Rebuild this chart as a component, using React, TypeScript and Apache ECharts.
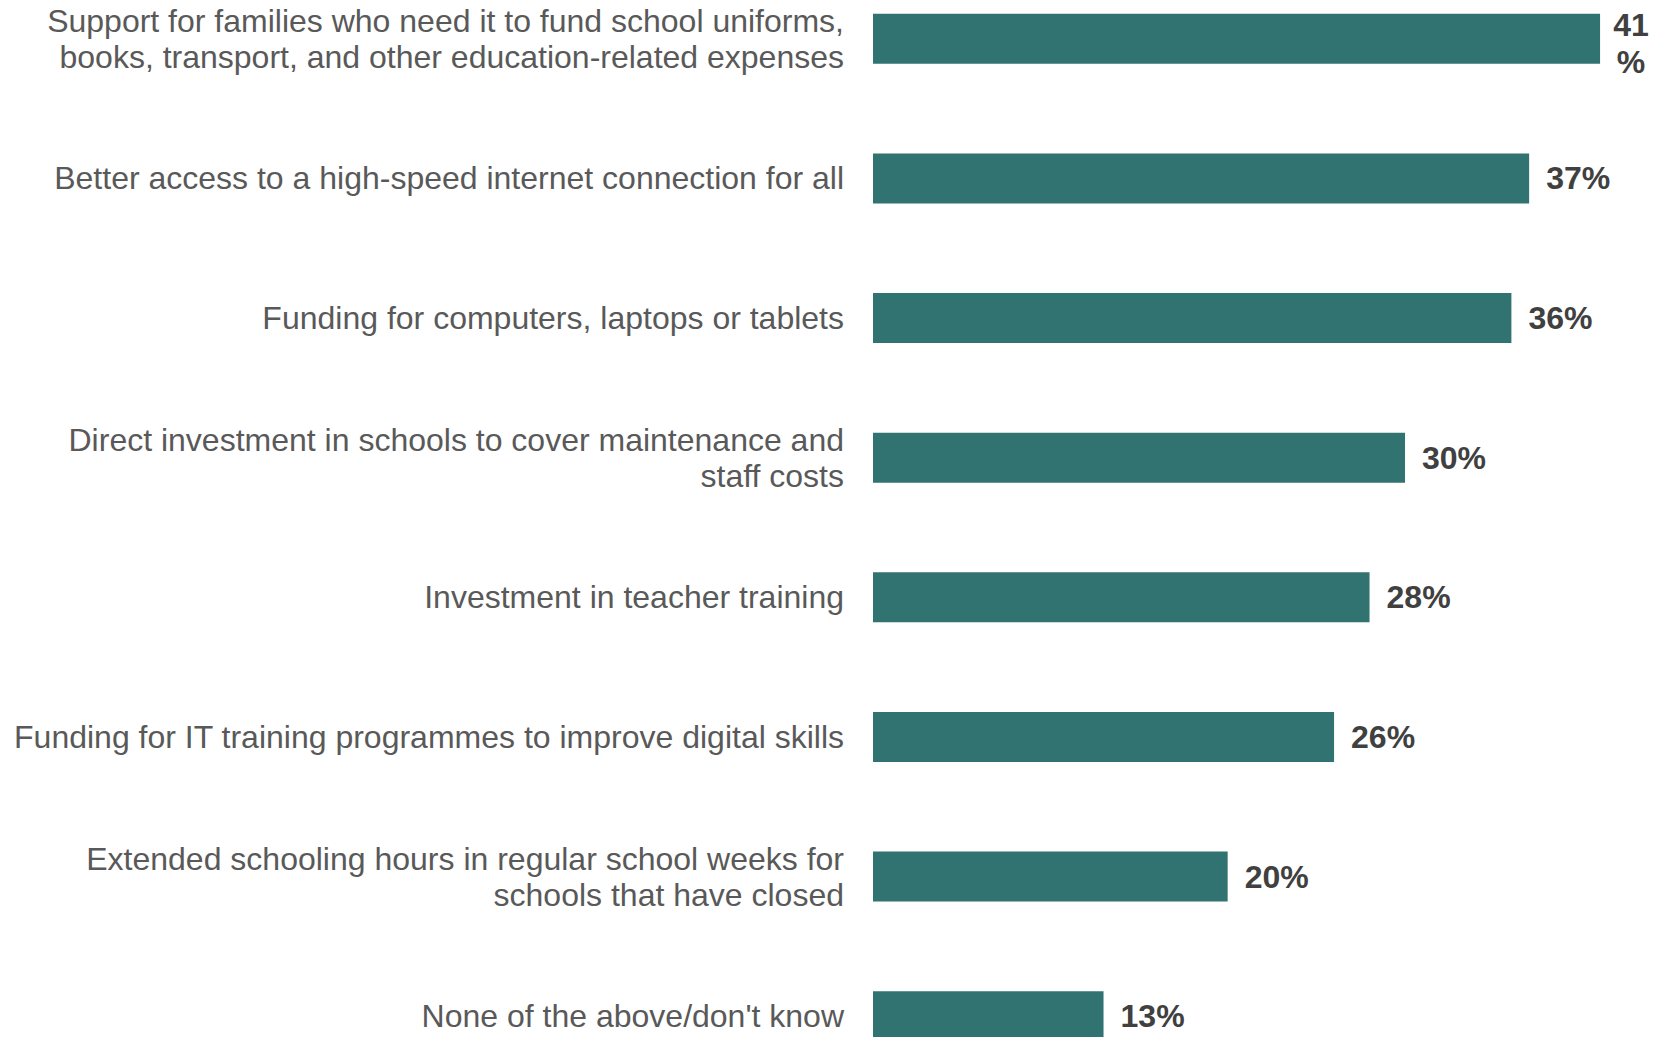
import React, { useEffect, useRef } from "react";
import * as echarts from "echarts";

const categories: string[] = [
  "Support for families who need it to fund school uniforms,\nbooks, transport, and other education-related expenses",
  "Better access to a high-speed internet connection for all",
  "Funding for computers, laptops or tablets",
  "Direct investment in schools to cover maintenance and\nstaff costs",
  "Investment in teacher training",
  "Funding for IT training programmes to improve digital skills",
  "Extended schooling hours in regular school weeks for\nschools that have closed",
  "None of the above/don't know",
];

const values: number[] = [41, 37, 36, 30, 28, 26, 20, 13];

const FONT = "'Liberation Sans', Arial, Helvetica, sans-serif";

export default function App() {
  const ref = useRef<HTMLDivElement>(null);

  useEffect(() => {
    if (!ref.current) return;
    const chart = echarts.init(ref.current, null, { renderer: "svg" });
    const data = values.map((v, i) =>
      i === 0
        ? {
            value: v,
            label: {
              formatter: "{c}\n%",
              align: "center",
              lineHeight: 37,
              offset: [14, 5],
            },
          }
        : { value: v }
    );
    chart.setOption({
      animation: false,
      backgroundColor: "#ffffff",
      grid: {
        left: 873,
        width: 799,
        top: 9,
        height: 1117,
        containLabel: false,
      },
      xAxis: {
        type: "value",
        min: 0,
        max: 45,
        show: false,
      },
      yAxis: {
        type: "category",
        data: categories,
        inverse: true,
        axisLine: { show: false },
        axisTick: { show: false },
        splitLine: { show: false },
        axisLabel: {
          margin: 29,
          fontSize: 32,
          lineHeight: 36,
          color: "#595959",
          fontFamily: FONT,
          align: "right",
        },
      },
      series: [
        {
          type: "bar",
          data,
          barWidth: 50,
          itemStyle: { color: "#317370" },
          label: {
            show: true,
            position: "right",
            distance: 17,
            formatter: "{c}%",
            fontSize: 32,
            fontWeight: "bold",
            color: "#404040",
            fontFamily: FONT,
          },
        },
      ],
    });
    return () => chart.dispose();
  }, []);

  return (
    <div
      style={{
        position: "fixed",
        left: 0,
        top: 0,
        width: 1671,
        height: 1037,
        overflow: "hidden",
        background: "#ffffff",
      }}
    >
      <div
        ref={ref}
        style={{ position: "absolute", left: 0, top: -40, width: 1671, height: 1140 }}
      />
    </div>
  );
}
